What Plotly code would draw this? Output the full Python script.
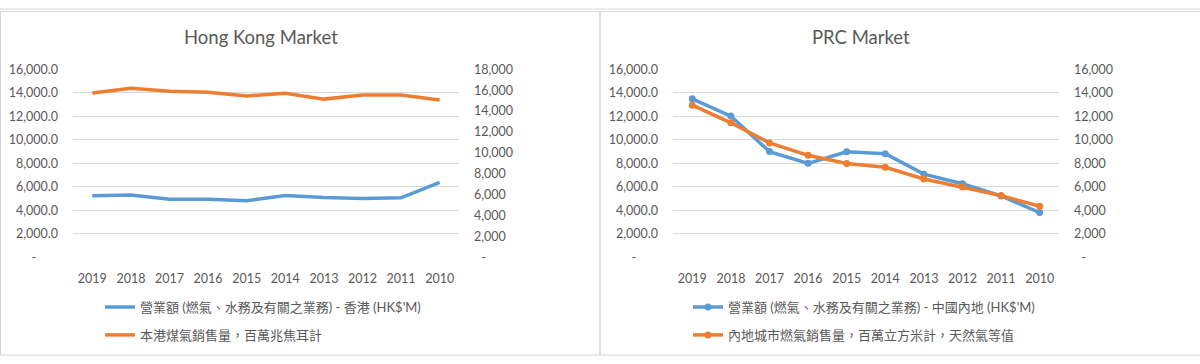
import plotly.graph_objects as go

years = ["2019", "2018", "2017", "2016", "2015", "2014", "2013", "2012", "2011", "2010"]

hk_revenue = [5230, 5310, 4935, 4935, 4820, 5260, 5100, 5015, 5065, 6370]
hk_gas_sales = [15730, 16190, 15915, 15800, 15460, 15700, 15150, 15550, 15550, 15060]

prc_revenue = [13490, 12020, 9000, 8000, 8980, 8820, 7080, 6260, 5220, 3810]
prc_gas_sales = [12950, 11450, 9740, 8680, 7980, 7670, 6670, 5980, 5250, 4350]

hk_rev_name = "營業額 (燃氣、水務及有關之業務) - 香港 (HK$'M)"
hk_gas_name = "本港煤氣銷售量，百萬兆焦耳計"
prc_rev_name = "營業額 (燃氣、水務及有關之業務) - 中國內地 (HK$'M)"
prc_gas_name = "內地城市燃氣銷售量，百萬立方米計，天然氣等值"

left_ticks = [0, 2000, 4000, 6000, 8000, 10000, 12000, 14000, 16000]
left_labels = ["-\u2007\u2007\u2007"] + [f"{v:,.1f}" for v in left_ticks[1:]]
hk_right_ticks = [0, 2000, 4000, 6000, 8000, 10000, 12000, 14000, 16000, 18000]
hk_right_labels = ["\u2007-"] + [f"{v:,}" for v in hk_right_ticks[1:]]
prc_right_labels = ["\u2007-"] + [f"{v:,}" for v in left_ticks[1:]]

BLUE = "#5B9BD5"
ORANGE = "#ED7D31"
TXT = "#595959"
GRID = "#D9D9D9"
FONT = "Lato, 'Noto Sans CJK TC', sans-serif"

W, H = 1200, 364
def px(x):
    return x / W
def py(y):
    return 1 - y / H

fig = go.Figure()

fig.add_trace(go.Scatter(x=years, y=hk_revenue, name=hk_rev_name, mode="lines",
                         line=dict(color=BLUE, width=3.5), xaxis="x", yaxis="y", legend="legend"))
fig.add_trace(go.Scatter(x=years, y=hk_gas_sales, name=hk_gas_name, mode="lines",
                         line=dict(color=ORANGE, width=3.5), xaxis="x", yaxis="y2", legend="legend2"))
fig.add_trace(go.Scatter(x=years, y=prc_revenue, name=prc_rev_name, mode="lines+markers",
                         line=dict(color=BLUE, width=3.5), marker=dict(size=7, color=BLUE),
                         xaxis="x2", yaxis="y3", legend="legend3"))
fig.add_trace(go.Scatter(x=years, y=prc_gas_sales, name=prc_gas_name, mode="lines+markers",
                         line=dict(color=ORANGE, width=3.5), marker=dict(size=7, color=ORANGE),
                         xaxis="x2", yaxis="y4", legend="legend4"))

ydom = [py(260), py(64)]
xcommon = dict(showgrid=False, showline=False, zeroline=False, ticks="",
               tickfont=dict(size=12.5, color=TXT), type="category", fixedrange=True,
               range=[-0.5, 9.5], ticklabelstandoff=12)
ycommon = dict(showline=False, zeroline=False, ticks="", tickfont=dict(size=12.5, color=TXT),
               ticklabelstandoff=14)

legend_common = dict(font=dict(size=13, color=TXT, family=FONT), bgcolor="rgba(0,0,0,0)",
                     xanchor="left", yanchor="middle", itemwidth=30, traceorder="normal")

fig.update_layout(
    width=W, height=H,
    margin=dict(l=0, r=0, t=0, b=0),
    paper_bgcolor="white", plot_bgcolor="white",
    font=dict(family=FONT, color=TXT),
    xaxis=dict(domain=[px(73), px(459)], anchor="y", **xcommon),
    xaxis2=dict(domain=[px(673), px(1059)], anchor="y3", **xcommon),
    yaxis=dict(domain=ydom, range=[0, 16000], tickvals=left_ticks, ticktext=left_labels,
               showgrid=True, gridcolor=GRID, gridwidth=1, anchor="x", **ycommon),
    yaxis2=dict(domain=ydom, range=[0, 18000], tickvals=hk_right_ticks, ticktext=hk_right_labels,
                showgrid=False, overlaying="y", side="right", anchor="x", **ycommon),
    yaxis3=dict(domain=ydom, range=[0, 16000], tickvals=left_ticks, ticktext=left_labels,
                showgrid=True, gridcolor=GRID, gridwidth=1, anchor="x2", **ycommon),
    yaxis4=dict(domain=ydom, range=[0, 16000], tickvals=left_ticks, ticktext=prc_right_labels,
                showgrid=False, overlaying="y3", side="right", anchor="x2", **ycommon),
    legend=dict(x=px(100), y=py(312), **legend_common),
    legend2=dict(x=px(100), y=py(341), **legend_common),
    legend3=dict(x=px(688), y=py(312), **legend_common),
    legend4=dict(x=px(688), y=py(341), **legend_common),
    showlegend=True,
    annotations=[
        dict(text="Hong Kong Market", x=px(261), y=py(30), xref="paper", yref="paper",
             showarrow=False, font=dict(size=18.5, color=TXT, family=FONT), xanchor="center", yanchor="middle"),
        dict(text="PRC Market", x=px(861), y=py(30), xref="paper", yref="paper",
             showarrow=False, font=dict(size=18.5, color=TXT, family=FONT), xanchor="center", yanchor="middle"),
    ],
    shapes=[
        dict(type="line", xref="paper", yref="paper", x0=0, x1=1, y0=py(1), y1=py(1),
             line=dict(color="#DADADA", width=1)),
        dict(type="rect", xref="paper", yref="paper", x0=px(0.5), x1=px(600), y0=py(362), y1=py(3.5),
             line=dict(color="#D4D4D4", width=1)),
        dict(type="rect", xref="paper", yref="paper", x0=px(600), x1=px(1205), y0=py(362), y1=py(3.5),
             line=dict(color="#D4D4D4", width=1)),
    ],
)

post = (
    "var d=document.getElementById('{plot_id}');"
    "d.style.position='fixed';d.style.top='0px';d.style.left='0px';"
    "document.body.style.margin='0';document.body.style.padding='0';"
    "document.body.style.height='364px';document.body.style.overflow='hidden';"
    "document.documentElement.style.height='364px';document.documentElement.style.overflow='hidden';"
)
fig.write_html("out.html", post_script=post, config={"displayModeBar": False})
